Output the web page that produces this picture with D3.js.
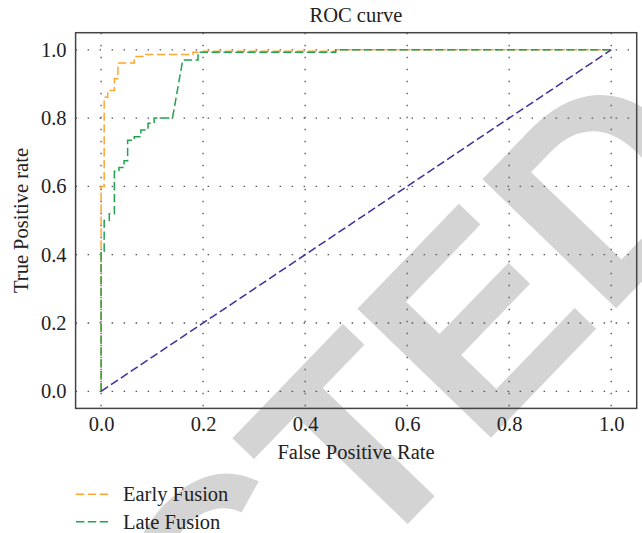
<!DOCTYPE html>
<html>
<head>
<meta charset="utf-8">
<script src="https://cdn.jsdelivr.net/npm/d3@7"></script>
<style>
  body { margin: 0; background: #fff; }
  .serif { font-family: "Liberation Serif", "Times New Roman", Times, "DejaVu Serif", serif; fill: #222; }
</style>
</head>
<body>
<script>
//ROC curve data
var earlyFpr = [0, 0, 0.006, 0.006, 0.013, 0.013, 0.026, 0.026, 0.033, 0.033, 0.065, 0.065, 0.085, 0.085, 0.18, 0.18, 0.2, 0.2, 0.46, 0.46, 1.0];
var earlyTpr = [0, 0.6, 0.6, 0.861, 0.861, 0.881, 0.881, 0.915, 0.915, 0.961, 0.961, 0.98, 0.98, 0.986, 0.986, 0.993, 0.993, 0.996, 0.996, 1.0, 1.0];
var lateFpr = [0, 0, 0.006, 0.006, 0.016, 0.016, 0.026, 0.026, 0.035, 0.035, 0.045, 0.045, 0.052, 0.052, 0.065, 0.065, 0.078, 0.078, 0.092, 0.092, 0.104, 0.104, 0.14, 0.16, 0.19, 0.19, 0.46, 0.46, 1.0];
var lateTpr = [0, 0.41, 0.41, 0.5, 0.5, 0.52, 0.52, 0.644, 0.644, 0.655, 0.655, 0.675, 0.675, 0.735, 0.735, 0.745, 0.745, 0.765, 0.765, 0.785, 0.785, 0.8, 0.8, 0.97, 0.97, 0.993, 0.993, 1.0, 1.0];
var chanceFpr = [0, 1];
var chanceTpr = [0, 1];
var tickValues = [0, 0.2, 0.4, 0.6, 0.8, 1.0];
var seriesNames = ["Early Fusion", "Late Fusion"];
var seriesColors = ["#ffa533", "#1ea34e"];

var width = 642, height = 533;

var svg = d3.select("body").append("svg")
    .attr("width", width)
    .attr("height", height);

//watermark behind everything
svg.append("text")
    .attr("transform", "translate(739,181) rotate(-46)")
    .attr("text-anchor", "end")
    .style("font-family", "'Liberation Sans', Arial, sans-serif")
    .style("font-weight", "bold")
    .style("font-size", "270px")
    .style("fill", "#d4d4d4")
    .text("RETRACTED");

//scales
var x = d3.scaleLinear().domain([-0.05, 1.05]).range([75.6, 636.7]);
var y = d3.scaleLinear().domain([-0.05, 1.05]).range([408.4, 32.7]);

//dotted grid
var grid = svg.append("g");
grid.selectAll(".vgrid")
    .data(tickValues)
    .enter()
    .append("line")
    .attr("x1", function(d){ return x(d); })
    .attr("x2", function(d){ return x(d); })
    .attr("y1", y.range()[1])
    .attr("y2", y.range()[0])
    .attr("stroke", "#555")
    .attr("stroke-width", 1.3)
    .attr("stroke-dasharray", "1.5,10.5");
grid.selectAll(".hgrid")
    .data(tickValues)
    .enter()
    .append("line")
    .attr("y1", function(d){ return y(d); })
    .attr("y2", function(d){ return y(d); })
    .attr("x1", x.range()[0])
    .attr("x2", x.range()[1])
    .attr("stroke", "#555")
    .attr("stroke-width", 1.3)
    .attr("stroke-dasharray", "1.5,10.5");

//curves
var line = d3.line()
    .x(function(d){ return x(d[0]); })
    .y(function(d){ return y(d[1]); });

function pairs(a, b){
    return a.map(function(v, i){ return [v, b[i]]; });
}

svg.append("path")
    .datum(pairs(earlyFpr, earlyTpr))
    .attr("d", line)
    .attr("fill", "none")
    .attr("stroke", seriesColors[0])
    .attr("stroke-width", 1.5)
    .attr("stroke-dasharray", "8.3,3.6");

svg.append("path")
    .datum(pairs(lateFpr, lateTpr))
    .attr("d", line)
    .attr("fill", "none")
    .attr("stroke", seriesColors[1])
    .attr("stroke-width", 1.5)
    .attr("stroke-dasharray", "8.3,3.6");

svg.append("path")
    .datum(pairs(chanceFpr, chanceTpr))
    .attr("d", line)
    .attr("fill", "none")
    .attr("stroke", "#3b2f9e")
    .attr("stroke-width", 1.5)
    .attr("stroke-dasharray", "8.3,3.6");

//frame
svg.append("rect")
    .attr("x", x.range()[0])
    .attr("y", y.range()[1])
    .attr("width", x.range()[1] - x.range()[0])
    .attr("height", y.range()[0] - y.range()[1])
    .attr("fill", "none")
    .attr("stroke", "#444")
    .attr("stroke-width", 1.5);

//axes (labels only)
var xAxis = svg.append("g")
    .attr("transform", "translate(0," + y.range()[0] + ")")
    .call(d3.axisBottom(x).tickValues(tickValues).tickFormat(d3.format(".1f")).tickSize(0).tickPadding(8));
var yAxis = svg.append("g")
    .attr("transform", "translate(" + x.range()[0] + ",0)")
    .call(d3.axisLeft(y).tickValues(tickValues).tickFormat(d3.format(".1f")).tickSize(0).tickPadding(9));
[xAxis, yAxis].forEach(function(a){
    a.attr("font-family", null).attr("font-size", null);
    a.select(".domain").remove();
    a.selectAll("text")
        .attr("class", "serif")
        .style("font-size", "20.5px");
});

//titles
svg.append("text")
    .attr("class", "serif")
    .attr("x", 356)
    .attr("y", 22)
    .attr("text-anchor", "middle")
    .style("font-size", "20.5px")
    .text("ROC curve");

svg.append("text")
    .attr("class", "serif")
    .attr("x", 356)
    .attr("y", 459)
    .attr("text-anchor", "middle")
    .style("font-size", "20.5px")
    .text("False Positive Rate");

svg.append("text")
    .attr("class", "serif")
    .attr("transform", "translate(28,220.5) rotate(-90)")
    .attr("text-anchor", "middle")
    .style("font-size", "20.5px")
    .text("True Positive rate");

//legend
var legend = svg.selectAll(".legend")
    .data(seriesNames)
    .enter()
    .append("g")
    .attr("transform", function(d, i){ return "translate(76," + (494.3 + i * 27.4) + ")"; });

legend.append("line")
    .attr("x1", 0)
    .attr("x2", 35)
    .attr("stroke", function(d, i){ return seriesColors[i]; })
    .attr("stroke-width", 1.5)
    .attr("stroke-dasharray", "8.3,3.6");

legend.append("text")
    .attr("class", "serif")
    .attr("x", 47)
    .attr("y", 7)
    .style("font-size", "20.5px")
    .text(function(d){ return d; });
</script>
</body>
</html>
